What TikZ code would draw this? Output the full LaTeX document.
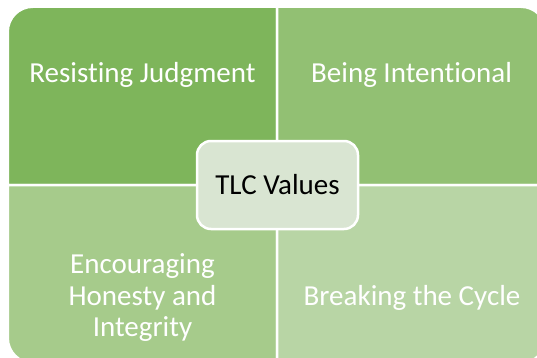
\documentclass[tikz,border=0pt]{standalone}
\usepackage{fontspec}
\setmainfont{Carlito}[Ligatures={NoCommon}]
\definecolor{qTL}{HTML}{7EB55B}
\definecolor{qTR}{HTML}{92C073}
\definecolor{qBL}{HTML}{A6CB8B}
\definecolor{qBR}{HTML}{B8D5A5}
\definecolor{qC}{HTML}{D9E5D2}
\tikzset{
  quad/.style={draw=white, line width=2.5pt},
  qtext/.style={text=white, font=\fontsize{29}{31.5}\selectfont, inner sep=0pt},
  centerbox/.style={draw=white, line width=2.5pt, fill=qC, rounded corners=14pt,
    minimum width=161pt, minimum height=88pt, inner sep=0pt,
    font=\fontsize{29}{31.5}\selectfont, text=black}
}
\begin{document}
\begin{tikzpicture}[x=1pt,y=1pt]
\clip (0,0) rectangle (537,357);
\fill[white] (0,0) rectangle (537,357);
% quadrants
\path[quad, fill=qTL] (277.2,172) -- (7.75,172) -- (7.75,325.25) arc[start angle=180,end angle=90,radius=25] -- (277.2,350.25) -- cycle;
\path[quad, fill=qTR] (277.2,172) -- (277.2,350.25) -- (521,350.25) arc[start angle=90,end angle=0,radius=25] -- (546,172) -- cycle;
\path[quad, fill=qBL] (277.2,172) -- (277.2,-6) -- (32.75,-6) arc[start angle=270,end angle=180,radius=25] -- (7.75,172) -- cycle;
\path[quad, fill=qBR] (277.2,172) -- (546,172) -- (546,19) arc[start angle=0,end angle=-90,radius=25] -- (277.2,-6) -- cycle;
% texts
\node[qtext, anchor=base] (tl) at (142.5,275) {Resisting Judgment};
\node[qtext, anchor=base] (tr) at (411.6,275) {Being Intentional};
\node[qtext, anchor=center, align=center] (bl) at (142.5,59) {Encouraging\\Honesty and\\Integrity};
\node[qtext, anchor=base] (br) at (412,52) {Breaking the Cycle};
% center
\node[centerbox] (c) at (277.5,172) {TLC Values};
\end{tikzpicture}
\end{document}
